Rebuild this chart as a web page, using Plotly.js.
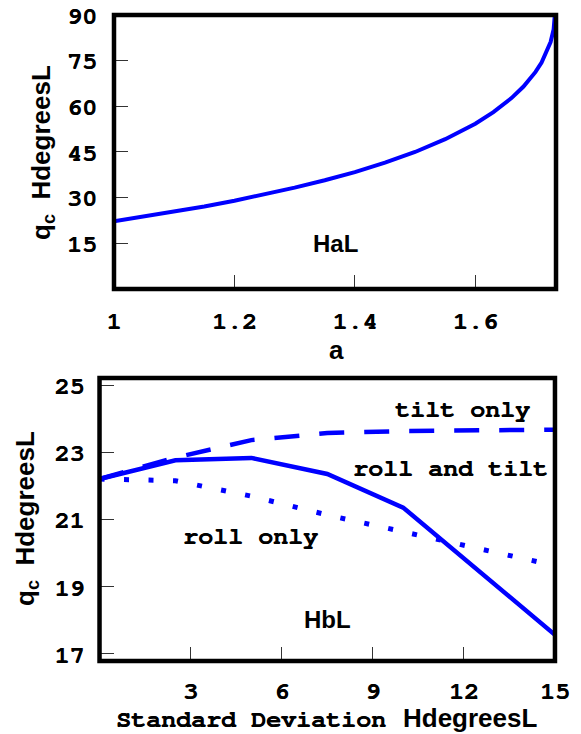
<!DOCTYPE html>
<html>
<head>
<meta charset="utf-8">
<script src="https://cdn.plot.ly/plotly-3.0.1.min.js"></script>
<style>html,body{margin:0;padding:0;background:#fff;}#chart{width:581px;height:734px;}</style>
</head>
<body>
<div id="chart"></div>
<script>
// Panel (a): critical angle vs a
const aVals = [1.00, 1.05, 1.10, 1.15, 1.20, 1.25, 1.30, 1.35, 1.40, 1.45, 1.50, 1.55, 1.60, 1.63, 1.66, 1.68, 1.70, 1.71, 1.72, 1.725, 1.73, 1.732];
const thetaA = [22.2, 23.8, 25.4, 27.1, 29.0, 31.0, 33.3, 35.7, 38.4, 41.5, 45.0, 49.2, 54.3, 58.1, 62.7, 66.5, 71.3, 74.4, 78.4, 81.1, 85.2, 90.0];

// Panel (b): critical angle vs standard deviation
const sdVals = [0, 2.5, 5, 7.5, 10, 12.5, 15];
const rollAndTilt = [22.21, 22.77, 22.84, 22.36, 21.36, 19.47, 17.57];
const tiltOnly = [22.21, 22.85, 23.37, 23.58, 23.64, 23.67, 23.68];
const rollOnly = [22.21, 22.16, 21.70, 21.14, 20.64, 20.15, 19.63];

const topXTicks = [1, 1.2, 1.4, 1.6];
const topXTickText = ["1", "1.2", "1.4", "1.6"];
const topYTicks = [15, 30, 45, 60, 75, 90];
const botXTicks = [3, 6, 9, 12, 15];
const botYTicks = [17, 19, 21, 23, 25];

const BLUE = '#0000ff';
const MONO = '"Nimbus Mono PS", "Nimbus Mono L", "FreeMono", "Courier 10 Pitch", "Liberation Mono", monospace';
const mono = {family: MONO, size: 25, color: '#000', weight: 'bold', shadow: '0.6px 0 0 #000'};
const sans = {family: '"Liberation Sans", Arial, sans-serif', size: 26, color: '#000', weight: 'bold'};

const traces = [
  {x: aVals, y: thetaA, xaxis: 'x', yaxis: 'y', mode: 'lines', line: {color: BLUE, width: 4}, hoverinfo: 'skip'},
  {x: sdVals, y: tiltOnly, xaxis: 'x2', yaxis: 'y2', mode: 'lines', line: {color: BLUE, width: 4.5, dash: '25px,20px'}, hoverinfo: 'skip'},
  {x: sdVals, y: rollOnly, xaxis: 'x2', yaxis: 'y2', mode: 'lines', line: {color: BLUE, width: 5, dash: '5px,19.5px'}, hoverinfo: 'skip'},
  {x: sdVals, y: rollAndTilt, xaxis: 'x2', yaxis: 'y2', mode: 'lines', line: {color: BLUE, width: 4.5}, hoverinfo: 'skip'}
];

const axCommon = {
  showgrid: false, zeroline: false, showline: false,
  ticks: 'inside', ticklen: 14, tickwidth: 1, tickcolor: '#333',
  tickfont: mono, fixedrange: true
};

const layout = {
  width: 581, height: 734,
  margin: {l: 0, r: 0, t: 0, b: 0},
  paper_bgcolor: '#fff', plot_bgcolor: '#fff',
  showlegend: false,
  xaxis: Object.assign({}, axCommon, {domain: [0.1962, 0.9570], anchor: 'y', range: [1, 1.734],
    tickmode: 'array', tickvals: topXTicks, ticktext: topXTickText, ticklabelstandoff: 14}),
  yaxis: Object.assign({}, axCommon, {domain: [0.6063, 0.9796], anchor: 'x', range: [0, 90],
    tickmode: 'array', tickvals: topYTicks, ticklabelstandoff: 16}),
  xaxis2: Object.assign({}, axCommon, {domain: [0.1713, 0.9552], anchor: 'y2', range: [0, 15],
    tickmode: 'array', tickvals: botXTicks, ticklabelstandoff: 12}),
  yaxis2: Object.assign({}, axCommon, {domain: [0.0995, 0.4850], anchor: 'x2', range: [16.79, 25.22],
    tickmode: 'array', tickvals: botYTicks, ticklabelstandoff: 14}),
  shapes: [
    {type: 'rect', xref: 'x domain', yref: 'y domain', x0: 0, x1: 1, y0: 0, y1: 1, line: {color: '#000', width: 4.5}, layer: 'above'},
    {type: 'rect', xref: 'x2 domain', yref: 'y2 domain', x0: 0, x1: 1, y0: 0, y1: 1, line: {color: '#000', width: 4.5}, layer: 'above'}
  ],
  annotations: [
    // top panel
    {xref: 'paper', yref: 'paper', x: 42 / 581, y: 1 - 153 / 734, xanchor: 'center', yanchor: 'middle', showarrow: false,
      textangle: -90, text: 'q<sub>c</sub>&nbsp;&nbsp;HdegreesL', font: sans},
    {xref: 'paper', yref: 'paper', x: 336 / 581, y: 1 - 350 / 734, xanchor: 'center', yanchor: 'middle', showarrow: false,
      text: 'a', font: sans},
    {xref: 'x', yref: 'y', x: 1.367, y: 15, xanchor: 'center', yanchor: 'middle', showarrow: false,
      text: 'HaL', font: Object.assign({}, sans, {size: 24})},
    // bottom panel
    {xref: 'paper', yref: 'paper', x: 26 / 581, y: 1 - 519 / 734, xanchor: 'center', yanchor: 'middle', showarrow: false,
      textangle: -90, text: 'q<sub>c</sub>&nbsp;&nbsp;HdegreesL', font: sans},
    {xref: 'paper', yref: 'paper', x: 251 / 581, y: 1 - 719 / 734, xanchor: 'center', yanchor: 'middle', showarrow: false,
      text: 'Standard Deviation', font: mono},
    {xref: 'paper', yref: 'paper', x: 470 / 581, y: 1 - 718 / 734, xanchor: 'center', yanchor: 'middle', showarrow: false,
      text: 'HdegreesL', font: sans},
    {xref: 'x2', yref: 'y2', x: 11.97, y: 24.29, xanchor: 'center', yanchor: 'middle', showarrow: false,
      text: 'tilt only', font: mono},
    {xref: 'x2', yref: 'y2', x: 11.55, y: 22.51, xanchor: 'center', yanchor: 'middle', showarrow: false,
      text: 'roll and tilt', font: mono},
    {xref: 'x2', yref: 'y2', x: 4.98, y: 20.5, xanchor: 'center', yanchor: 'middle', showarrow: false,
      text: 'roll only', font: mono},
    {xref: 'x2', yref: 'y2', x: 7.5, y: 18.03, xanchor: 'center', yanchor: 'middle', showarrow: false,
      text: 'HbL', font: Object.assign({}, sans, {size: 24})}
  ]
};

Plotly.newPlot('chart', traces, layout, {staticPlot: true, displayModeBar: false});
</script>
</body>
</html>
